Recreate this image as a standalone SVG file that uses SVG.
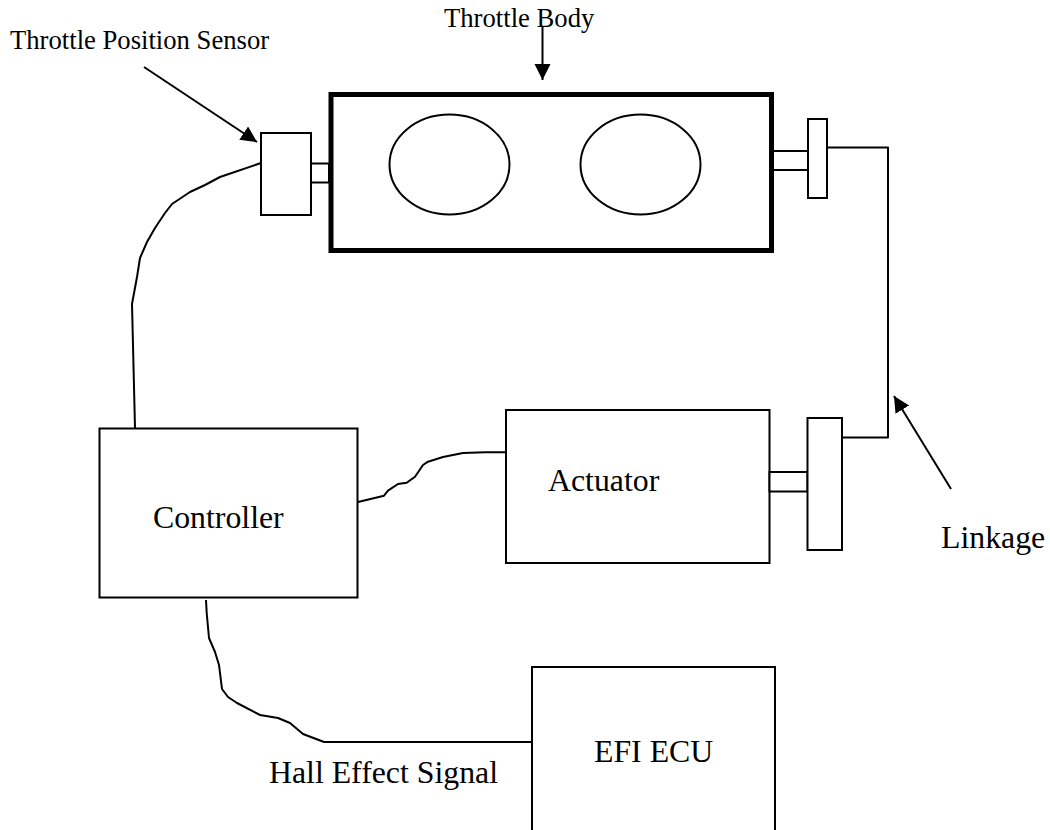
<svg xmlns="http://www.w3.org/2000/svg" width="1050" height="830" viewBox="0 0 1050 830">
<style>
.s{fill:#fff;stroke:#000;stroke-width:2}
.w{fill:none;stroke:#000;stroke-width:2;stroke-linejoin:round}
.t{font-family:"Liberation Serif","Times New Roman",serif;fill:#000}
.l{font-size:31.8px}
.m{font-size:26.67px}
</style>
<defs><marker id="a" markerUnits="userSpaceOnUse" markerWidth="20" markerHeight="18" refX="16" refY="8" orient="auto"><path d="M0 0L16 8L0 16Z" fill="#000"/></marker></defs>
<rect width="1050" height="830" fill="#fff"/>
<g id="labels">
<text class="t m" x="10" y="49">Throttle Position Sensor</text>
<text class="t m" x="444" y="27">Throttle Body</text>
<text class="t l" x="941" y="548">Linkage</text>
<text class="t l" x="269" y="783">Hall Effect Signal</text>
</g>
<g id="connectors">
<path class="w" d="M261 163L220 177L205 185L190 192L172 204L165 213L155 228L147 242L140 258L137 277L132 304L135 428"/>
<path class="w" d="M358 502L384 495.700L388 490.700L398 484L406.700 482.700L415 476.700L423 465L428 461.700L443 457L463 453L485 452.300L506 452.300"/>
<path class="w" d="M206 600L206.700 613L209 638L215 652L219 665L222 689L228 697L237 703L260 715L278 718L290 723L303 734L324 742L532 742"/>
<path class="w" d="M826 147.500L888 147.500L888 437.500L842 437.500"/>
<path class="w" d="M144 67L257 142" marker-end="url(#a)"/>
<path class="w" d="M542.500 26L542.500 80" marker-end="url(#a)"/>
<path class="w" d="M951 489L894 396" marker-end="url(#a)"/>
</g>
<g id="throttle-body">
<rect x="331" y="94.500" width="440.500" height="156" fill="#fff" stroke="#000" stroke-width="5"/>
<ellipse cx="449.500" cy="164.500" rx="60" ry="50" class="s"/>
<ellipse cx="640.500" cy="164.500" rx="60" ry="50" class="s"/>
</g>
<g id="tps"><rect x="311" y="163.500" width="18" height="19" class="s"/><rect x="261" y="133" width="50" height="82" class="s"/></g>
<g id="right-shaft"><rect x="773" y="151" width="35" height="19" class="s"/><rect x="808" y="119" width="19" height="79" class="s"/></g>
<g id="controller"><rect x="99.500" y="428.500" width="258" height="169" class="s"/><text class="t l" x="153" y="528">Controller</text></g>
<g id="actuator"><rect x="506" y="410" width="263.500" height="153" class="s"/><text class="t l" x="548" y="491">Actuator</text><rect x="769.500" y="472" width="38" height="19.500" class="s"/><rect x="807.500" y="418" width="34.500" height="132" class="s"/></g>
<g id="ecu"><path class="s" d="M532 830V667H775V830"/><text class="t l" x="594" y="762">EFI ECU</text></g>
</svg>
